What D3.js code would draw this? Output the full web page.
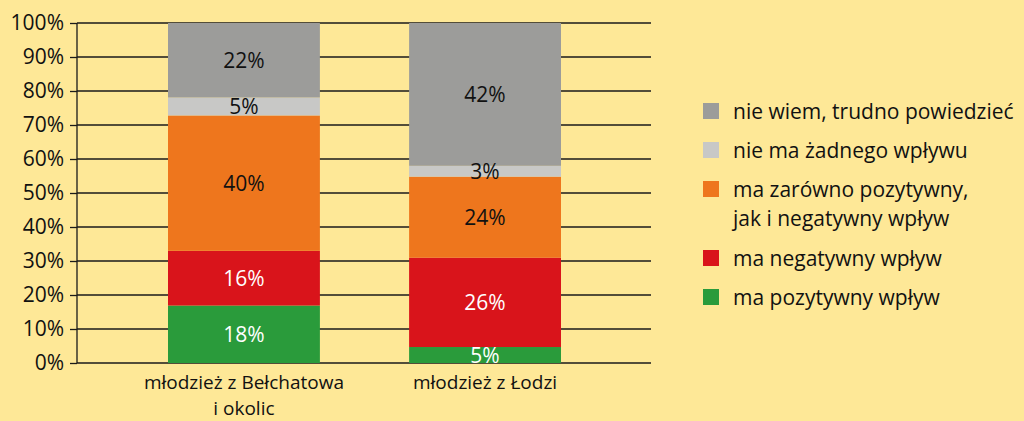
<!DOCTYPE html>
<html>
<head>
<meta charset="utf-8">
<script src="https://cdn.jsdelivr.net/npm/d3@7"></script>
<style>
  body { margin: 0; background: #fee897; }
  svg { display: block; font-family: "Open Sans", sans-serif; }
</style>
</head>
<body>
<div id="root"></div>
<script>
var width = 1024;
var height = 421;

// categories (x axis), each label may break over two lines
var groups = ['belchatow', 'lodz'];
var groupLabels = [['młodzież z Bełchatowa', 'i okolic'], ['młodzież z Łodzi']];

// series, bottom to top
var seriesKeys = ['poz', 'neg', 'oba', 'brak', 'niewiem'];
var seriesNames = [
  ['ma pozytywny wpływ'],
  ['ma negatywny wpływ'],
  ['ma zarówno pozytywny,', 'jak i negatywny wpływ'],
  ['nie ma żadnego wpływu'],
  ['nie wiem, trudno powiedzieć']
];
var seriesColors = ['#2a9b3b', '#d9141b', '#ee761d', '#c8c8c6', '#9c9c9a'];
var labelColors = ['#fff', '#fff', '#111', '#111', '#111'];

// segment heights as drawn, and the percent labels printed on them
var belchatowValues = [16.9, 16.1, 39.8, 5.3, 21.9];
var lodzValues = [4.7, 26.3, 23.8, 3.2, 42.0];
var belchatowLabels = ['18%', '16%', '40%', '5%', '22%'];
var lodzLabels = ['5%', '26%', '24%', '3%', '42%'];

var yTicks = [0, 10, 20, 30, 40, 50, 60, 70, 80, 90, 100];

var allValues = [belchatowValues, lodzValues];
var allLabels = [belchatowLabels, lodzLabels];

var table = groups.map(function(g, i) {
  var row = { group: g };
  seriesKeys.forEach(function(k, j) { row[k] = allValues[i][j]; });
  return row;
});

var margin = { left: 77, right: 651, top: 23, bottom: 363 };

var x = d3.scaleBand()
  .domain(groups)
  .range([168, 561])
  .paddingInner(0.37)
  .paddingOuter(0);

var y = d3.scaleLinear()
  .domain([0, 100])
  .range([margin.bottom, margin.top]);

var stack = d3.stack().keys(seriesKeys);
var layers = stack(table);

var svg = d3.select('#root')
  .append('svg')
    .attr('width', width)
    .attr('height', height);

// grid lines
svg.append('g')
  .selectAll('line')
  .data(yTicks)
  .enter()
  .append('line')
    .attr('x1', margin.left)
    .attr('x2', margin.right)
    .attr('y1', function(d) { return y(d); })
    .attr('y2', function(d) { return y(d); })
    .attr('stroke', '#1a1a1a')
    .attr('stroke-width', 1.3);

// y axis
var yAxis = svg.append('g')
  .attr('transform', 'translate(' + margin.left + ',0)')
  .call(d3.axisLeft(y)
    .tickValues(yTicks)
    .tickSize(7)
    .tickPadding(6)
    .tickFormat(function(d) { return d + '%'; }));

yAxis.selectAll('line, path').attr('stroke', '#1a1a1a').attr('stroke-width', 1.3);
yAxis.select('path').attr('d', 'M0,' + margin.top + 'V' + margin.bottom);
yAxis.selectAll('text')
  .attr('fill', '#111')
  .style('font-size', '21px')
  .style('font-family', '"Open Sans", sans-serif');

// bars
var layer = svg.append('g')
  .selectAll('g')
  .data(layers)
  .enter()
  .append('g')
    .attr('fill', function(d, i) { return seriesColors[i]; });

layer.selectAll('rect')
  .data(function(d) { return d; })
  .enter()
  .append('rect')
    .attr('x', function(d) { return x(d.data.group); })
    .attr('width', x.bandwidth())
    .attr('y', function(d) { return y(d[1]); })
    .attr('height', function(d) { return y(d[0]) - y(d[1]); });

// value labels
layers.forEach(function(l, si) {
  svg.append('g')
    .selectAll('text')
    .data(l)
    .enter()
    .append('text')
      .attr('x', function(d) { return x(d.data.group) + x.bandwidth() / 2; })
      .attr('y', function(d) { return (y(d[0]) + y(d[1])) / 2; })
      .attr('dy', '0.36em')
      .attr('text-anchor', 'middle')
      .attr('fill', labelColors[si])
      .style('font-size', '21px')
      .text(function(d, gi) { return allLabels[gi][si]; });
});

// x labels
var xLab = svg.append('g')
  .selectAll('text')
  .data(groups)
  .enter()
  .append('text')
    .attr('x', function(d) { return x(d) + x.bandwidth() / 2; })
    .attr('y', 389)
    .attr('text-anchor', 'middle')
    .attr('fill', '#111')
    .style('font-size', '19px');

xLab.selectAll('tspan')
  .data(function(d, i) { return groupLabels[i]; })
  .enter()
  .append('tspan')
    .attr('x', function() { return d3.select(this.parentNode).attr('x'); })
    .attr('dy', function(d, i) { return i === 0 ? 0 : 26; })
    .text(function(d) { return d; });

// legend, top entry is the top series
var legendOrder = d3.range(seriesKeys.length).reverse();
var legendY = [111, 150, 189, 258, 297];

var legend = svg.append('g')
  .selectAll('g')
  .data(legendOrder)
  .enter()
  .append('g')
    .attr('transform', function(d, i) { return 'translate(703,' + legendY[i] + ')'; });

legend.append('rect')
  .attr('x', 0)
  .attr('y', -8)
  .attr('width', 16)
  .attr('height', 16)
  .attr('fill', function(d) { return seriesColors[d]; });

var legText = legend.append('text')
  .attr('x', 30)
  .attr('y', 0)
  .attr('fill', '#111')
  .style('font-size', '21px');

legText.selectAll('tspan')
  .data(function(d) { return seriesNames[d]; })
  .enter()
  .append('tspan')
    .attr('x', 30)
    .attr('dy', function(d, i) { return i === 0 ? '0.36em' : 29; })
    .text(function(d) { return d; });
</script>
</body>
</html>
